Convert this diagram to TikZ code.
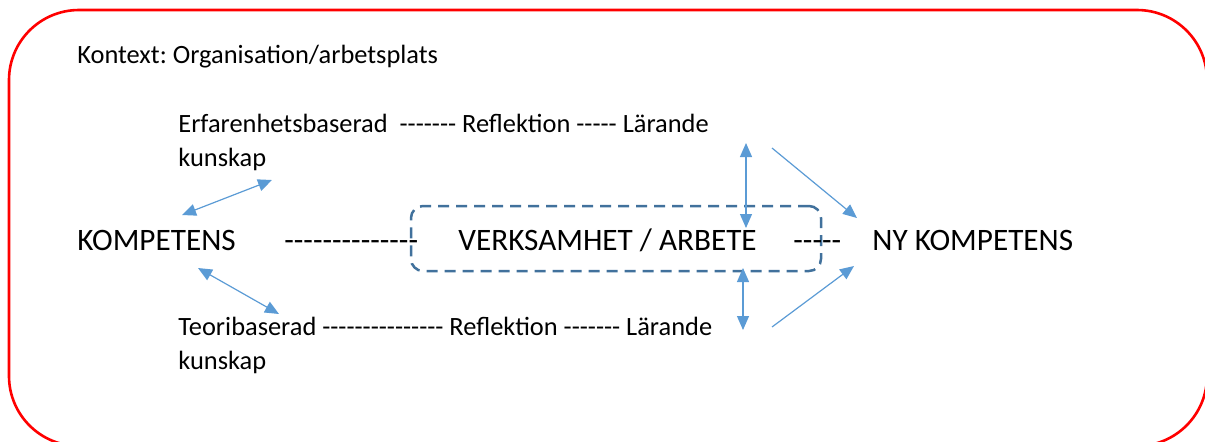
\documentclass[tikz,border=0pt]{standalone}
\usepackage{fontspec}
\setmainfont{Carlito}[Ligatures=TeXOff]
\frenchspacing
\usepackage{tikz}
\usetikzlibrary{arrows.meta, positioning}
\definecolor{CtxRed}{RGB}{255, 0, 0}
\definecolor{WorkBlue}{RGB}{65, 113, 156}
\definecolor{LinkBlue}{RGB}{91, 155, 213}
\definecolor{TextDark}{RGB}{0, 0, 0}
\tikzset{
  smalltxt/.style={anchor=base west, inner sep=0pt, align=left, text=TextDark,
    font=\fontsize{13.2}{16.6}\selectfont},
  bigtxt/.style={anchor=base west, inner sep=0pt, text=TextDark,
    font=\fontsize{15.6}{18}\selectfont},
  workbox/.style={draw=WorkBlue, line width=1.25pt, rounded corners=6pt,
    dash pattern=on 5.5pt off 3.5pt, minimum width=205pt, minimum height=32.5pt},
  link/.style={draw=LinkBlue, line width=0.6pt, -{Triangle[length=7pt, width=6pt]}},
  twolink/.style={link, {Triangle[length=7pt, width=6pt]}-{Triangle[length=7pt, width=6pt]}}
}

\begin{document}
\begin{tikzpicture}[x=0.5pt, y=-0.5pt]
    \useasboundingbox (0,0) rectangle (1205,441);
    \draw[CtxRed, line width=1.3pt, rounded corners=35pt] (9,10) rectangle (1207,446);

    \node[smalltxt] (ctx) at (77,63) {Kontext: Organisation/arbetsplats};
    \node[smalltxt] (erf) at (178,166) {Erfarenhetsbaserad\ \ ------- Reflektion ----- Lärande\\kunskap};
    \node[smalltxt] (teori) at (178,369) {Teoribaserad --------------- Reflektion ------- Lärande\\kunskap};

    \node[workbox] (verkbox) at (616,238.5) {};
    \node[bigtxt] (komp) at (77,250) {KOMPETENS};
    \node[bigtxt] (dashl) at (284,250) {--------------};
    \node[bigtxt] (verk) at (458,250) {VERKSAMHET / ARBETE};
    \node[bigtxt] (dashr) at (793,250) {-----};
    \node[bigtxt] (nykomp) at (872,250) {NY KOMPETENS};

    \coordinate (erfA) at (182,215);
    \coordinate (erfB) at (272,180);
    \coordinate (teoA) at (198,268);
    \coordinate (teoB) at (279,314);
    \coordinate (larA) at (746,143);
    \coordinate (larB) at (746,228);
    \coordinate (larC) at (743,268);
    \coordinate (larD) at (743,330);
    \coordinate (upS) at (772,148);
    \coordinate (upE) at (857,218);
    \coordinate (loS) at (772,327);
    \coordinate (loE) at (854,266);

    \draw[twolink] (erfA) -- (erfB);
    \draw[twolink] (teoA) -- (teoB);
    \draw[twolink] (larA) -- (larB);
    \draw[twolink] (larC) -- (larD);
    \draw[link] (upS) -- (upE);
    \draw[link] (loS) -- (loE);
\end{tikzpicture}
\end{document}
